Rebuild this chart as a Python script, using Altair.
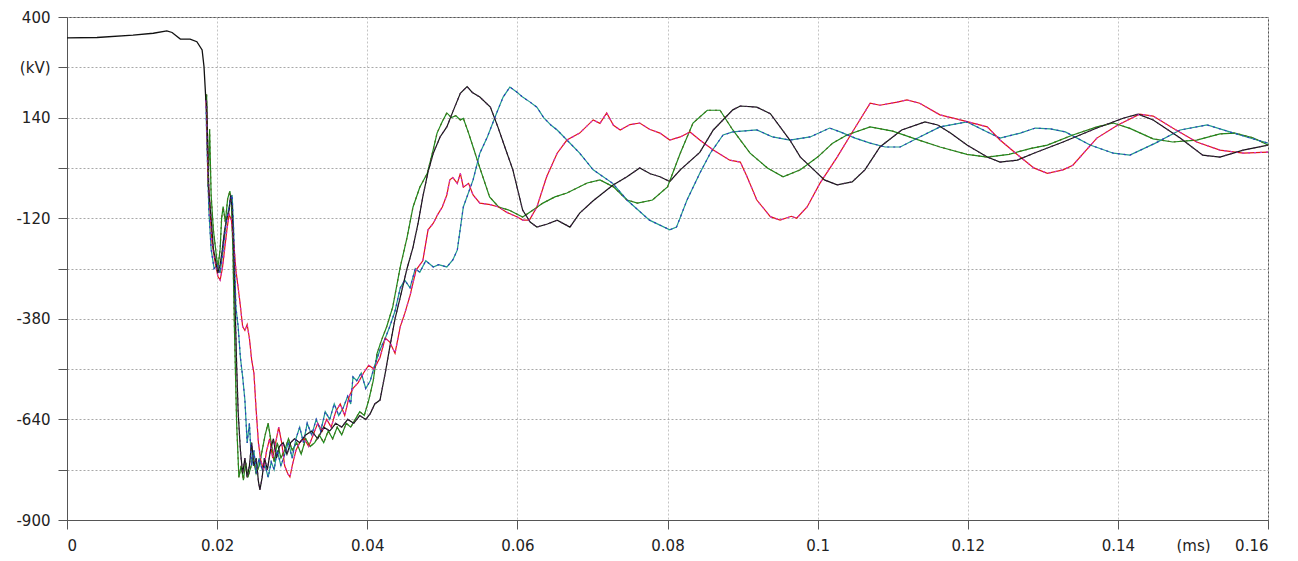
import altair as alt
import pandas as pd

# ---- data (t in ms, v in kV) ----
prefault = [(0.0, 346), (0.004, 347), (0.0088, 353), (0.0115, 358), (0.0133, 364),
            (0.0140, 360), (0.0151, 343), (0.0164, 343), (0.0173, 336), (0.0180, 315),
            (0.01825, 272), (0.0185, 185)]

wave_g = [(0.0186, 200), (0.0188, -40), (0.0190, 110), (0.0192, -60), (0.0195, -150), (0.0198, -200),
          (0.0201, -250), (0.0204, -200), (0.0206, -120), (0.0208, -90), (0.0211, -130), (0.0214, -70),
          (0.0217, -50), (0.0219, -80), (0.0221, -200), (0.0223, -400), (0.0226, -650), (0.0229, -790),
          (0.0232, -760), (0.0235, -797), (0.0238, -750), (0.0241, -790), (0.0244, -770), (0.0248, -740),
          (0.0252, -780), (0.0256, -760), (0.0260, -720), (0.0264, -680), (0.0268, -650), (0.0272, -700),
          (0.0276, -750), (0.0280, -700), (0.0285, -740), (0.0290, -720), (0.0295, -690), (0.0300, -720),
          (0.0306, -700), (0.0312, -730), (0.0318, -690), (0.0324, -710), (0.0330, -700), (0.0336, -680),
          (0.0342, -700), (0.0348, -670), (0.0354, -690), (0.0360, -660), (0.0366, -680), (0.0372, -650),
          (0.0378, -660), (0.0384, -640), (0.0390, -620), (0.0396, -630), (0.0402, -590), (0.0408, -540),
          (0.0413, -470), (0.0420, -430), (0.0426, -400), (0.0434, -349), (0.0444, -246), (0.0453, -170),
          (0.0461, -91), (0.0470, -40), (0.0480, -4), (0.0487, 50), (0.0493, 100), (0.0500, 130),
          (0.0506, 152), (0.0512, 140), (0.0518, 145), (0.0524, 134), (0.0528, 138), (0.0535, 100),
          (0.0541, 64), (0.0550, 10), (0.0563, -65), (0.0575, -91), (0.0590, -100), (0.0607, -117),
          (0.0620, -100), (0.0634, -81), (0.0650, -65), (0.0666, -55), (0.0693, -29), (0.0710, -21),
          (0.0728, -39), (0.0746, -73), (0.0760, -81), (0.0780, -73), (0.0800, -39), (0.0817, 48),
          (0.0834, 126), (0.0853, 159), (0.0870, 159), (0.0887, 108), (0.0910, 48), (0.0933, 10),
          (0.0954, -13), (0.0977, 5), (0.1000, 38), (0.1020, 74), (0.1039, 95), (0.1070, 116),
          (0.1100, 105), (0.1130, 85), (0.1163, 64), (0.1199, 45), (0.1226, 38), (0.1255, 45),
          (0.1283, 60), (0.1306, 69), (0.1340, 95), (0.1372, 116), (0.1394, 126), (0.1416, 112),
          (0.1447, 85), (0.1473, 77), (0.1505, 82), (0.1536, 98), (0.1556, 100), (0.1580, 88), (0.1600, 69)]

wave_t = [(0.0186, 100), (0.0189, -100), (0.0192, -200), (0.0196, -250), (0.0200, -240), (0.0204, -262),
          (0.0208, -200), (0.0212, -130), (0.0215, -100), (0.0218, -70), (0.0220, -60), (0.0222, -150),
          (0.0225, -350), (0.0228, -400), (0.0231, -480), (0.0234, -530), (0.0237, -590), (0.0240, -701),
          (0.0243, -650), (0.0246, -760), (0.0249, -720), (0.0252, -780), (0.0256, -740), (0.0260, -770),
          (0.0264, -760), (0.0268, -790), (0.0272, -750), (0.0276, -770), (0.0280, -720), (0.0285, -760),
          (0.0290, -730), (0.0295, -700), (0.0300, -740), (0.0305, -690), (0.0310, -660), (0.0315, -700),
          (0.0320, -650), (0.0326, -680), (0.0332, -640), (0.0338, -670), (0.0344, -620), (0.0350, -640),
          (0.0356, -600), (0.0362, -630), (0.0368, -610), (0.0374, -580), (0.0378, -600), (0.0381, -530),
          (0.0386, -540), (0.0392, -520), (0.0398, -560), (0.0404, -540), (0.0410, -500), (0.0417, -460),
          (0.0424, -430), (0.0430, -400), (0.0437, -360), (0.0444, -300), (0.0450, -280), (0.0457, -300),
          (0.0464, -250), (0.0470, -260), (0.0478, -230), (0.0488, -246), (0.0495, -240), (0.0506, -246),
          (0.0514, -228), (0.0520, -202), (0.0528, -91), (0.0541, -21), (0.0550, 48), (0.0560, 90),
          (0.0572, 150), (0.0581, 193), (0.0590, 219), (0.0600, 205), (0.0607, 193), (0.0617, 180),
          (0.0626, 167), (0.0635, 140), (0.0645, 120), (0.0653, 108), (0.0666, 82), (0.0683, 48),
          (0.0701, 5), (0.0727, -30), (0.0746, -73), (0.0776, -125), (0.0803, -150), (0.0812, -143),
          (0.0826, -73), (0.0843, -4), (0.0857, 48), (0.0874, 95), (0.0887, 103), (0.0919, 108),
          (0.0940, 90), (0.0963, 82), (0.0990, 90), (0.1016, 113), (0.1030, 103), (0.1050, 87),
          (0.1070, 74), (0.1090, 64), (0.1110, 64), (0.1136, 90), (0.1163, 116), (0.1199, 129),
          (0.1226, 103), (0.1243, 87), (0.1270, 100), (0.1290, 113), (0.1310, 111), (0.1330, 103),
          (0.1363, 69), (0.1394, 48), (0.1416, 43), (0.1450, 74), (0.1483, 108), (0.1519, 121),
          (0.1549, 103), (0.1575, 88), (0.1600, 74)]

wave_p = [(0.0186, 150), (0.0188, -20), (0.0190, -80), (0.0193, -180), (0.0197, -230), (0.0201, -270),
          (0.0204, -280), (0.0207, -250), (0.0210, -200), (0.0213, -150), (0.0216, -110), (0.0219, -125),
          (0.0222, -180), (0.0225, -254), (0.0230, -330), (0.0234, -400), (0.0237, -410), (0.0240, -395),
          (0.0243, -430), (0.0246, -486), (0.0249, -520), (0.0252, -616), (0.0255, -700), (0.0258, -745),
          (0.0262, -770), (0.0266, -720), (0.0270, -690), (0.0274, -740), (0.0278, -700), (0.0282, -660),
          (0.0286, -700), (0.0290, -760), (0.0294, -780), (0.0297, -789), (0.0300, -760), (0.0305, -720),
          (0.0310, -700), (0.0316, -690), (0.0322, -710), (0.0328, -680), (0.0334, -650), (0.0340, -670),
          (0.0346, -640), (0.0352, -660), (0.0358, -620), (0.0364, -600), (0.0370, -630), (0.0376, -580),
          (0.0381, -560), (0.0388, -545), (0.0395, -520), (0.0402, -500), (0.0409, -510), (0.0417, -480),
          (0.0424, -430), (0.0430, -440), (0.0437, -469), (0.0444, -400), (0.0450, -366), (0.0457, -320),
          (0.0465, -254), (0.0474, -230), (0.0481, -150), (0.0488, -133), (0.0494, -110), (0.0500, -91),
          (0.0506, -60), (0.0510, -21), (0.0514, -15), (0.0520, -30), (0.0524, -4), (0.0528, -40),
          (0.0535, -30), (0.0541, -60), (0.0550, -81), (0.0564, -85), (0.0575, -91), (0.0586, -105),
          (0.0600, -117), (0.0607, -125), (0.0616, -125), (0.0626, -91), (0.0639, -13), (0.0653, 48),
          (0.0666, 82), (0.0683, 100), (0.0701, 134), (0.0710, 125), (0.0719, 152), (0.0728, 120),
          (0.0737, 108), (0.0750, 122), (0.0763, 126), (0.0776, 110), (0.0790, 100), (0.0803, 82),
          (0.0817, 90), (0.0830, 103), (0.0843, 82), (0.0861, 56), (0.0883, 30), (0.0897, 25),
          (0.0906, -13), (0.0919, -73), (0.0937, -116), (0.0950, -125), (0.0965, -115), (0.0972, -120),
          (0.0986, -91), (0.1003, -30), (0.1026, 38), (0.1048, 108), (0.1070, 177), (0.1083, 172),
          (0.1106, 180), (0.1119, 186), (0.1136, 177), (0.1163, 147), (0.1190, 134), (0.1226, 116),
          (0.1243, 82), (0.1270, 38), (0.1288, 10), (0.1306, -4), (0.1327, 5), (0.1340, 17),
          (0.1372, 87), (0.1400, 121), (0.1429, 149), (0.1447, 144), (0.1473, 113), (0.1505, 77),
          (0.1536, 56), (0.1567, 48), (0.1600, 51)]

wave_k = [(0.0186, 180), (0.0189, -50), (0.0192, -120), (0.0195, -200), (0.0198, -230), (0.0201, -262),
          (0.0204, -240), (0.0207, -200), (0.0210, -150), (0.0213, -120), (0.0216, -100), (0.0218, -60),
          (0.0220, -90), (0.0222, -200), (0.0224, -350), (0.0226, -500), (0.0228, -620), (0.0231, -720),
          (0.0234, -780), (0.0237, -740), (0.0240, -790), (0.0243, -760), (0.0246, -700), (0.0249, -760),
          (0.0252, -740), (0.0255, -800), (0.0257, -822), (0.0260, -790), (0.0263, -740), (0.0267, -770),
          (0.0271, -720), (0.0275, -690), (0.0279, -740), (0.0283, -710), (0.0288, -700), (0.0293, -730),
          (0.0298, -700), (0.0303, -690), (0.0310, -700), (0.0318, -680), (0.0326, -670), (0.0334, -690),
          (0.0342, -660), (0.0350, -670), (0.0358, -650), (0.0366, -660), (0.0374, -640), (0.0382, -650),
          (0.0390, -630), (0.0398, -640), (0.0404, -625), (0.0410, -600), (0.0417, -590), (0.0424, -520),
          (0.0430, -453), (0.0437, -380), (0.0444, -324), (0.0453, -250), (0.0461, -195), (0.0468, -130),
          (0.0474, -65), (0.0481, 0), (0.0488, 48), (0.0497, 90), (0.0506, 116), (0.0515, 160),
          (0.0524, 203), (0.0533, 220), (0.0540, 205), (0.0550, 193), (0.0564, 167), (0.0574, 116),
          (0.0584, 60), (0.0594, 5), (0.0607, -99), (0.0617, -130), (0.0626, -143), (0.0640, -135),
          (0.0653, -125), (0.0670, -143), (0.0683, -107), (0.0701, -75), (0.0727, -35), (0.0746, -13),
          (0.0763, 10), (0.0777, -5), (0.0790, -13), (0.0803, -25), (0.0817, 5), (0.0843, 50),
          (0.0861, 108), (0.0887, 160), (0.0897, 170), (0.0919, 167), (0.0937, 150), (0.0963, 82),
          (0.0977, 38), (0.0995, 5), (0.1009, -21), (0.1026, -34), (0.1046, -26), (0.1063, 5),
          (0.1083, 64), (0.1112, 108), (0.1143, 129), (0.1160, 121), (0.1177, 100), (0.1199, 69),
          (0.1226, 38), (0.1243, 25), (0.1266, 30), (0.1288, 48), (0.1327, 77), (0.1372, 113),
          (0.1408, 139), (0.1427, 149), (0.1447, 134), (0.1483, 87), (0.1513, 43), (0.1536, 38),
          (0.1567, 56), (0.1600, 69)]

series_names = ["G", "T", "P", "K"]
primary_colors = ["#1a8c1a", "#1f9a8c", "#e01818", "#151515"]
overlay_colors = ["#4f6a22", "#3038c0", "#d030d0", "#4a2850"]

x_ticks = [0, 0.02, 0.04, 0.06, 0.08, 0.1, 0.12, 0.14, 0.16]
y_ticks = [-900, -770, -640, -510, -380, -250, -120, 10, 140, 270, 400]

# ---- build tables ----
rows = []
for name, pts in zip(series_names, [wave_g, wave_t, wave_p, wave_k]):
    for t, v in [prefault[-1]] + pts:
        rows.append({"t": t, "v": v, "s": name})
df = pd.DataFrame(rows)
df_pre = pd.DataFrame(prefault, columns=["t", "v"])

FONT = "DejaVu Sans"
x_enc = alt.X("t:Q", scale=alt.Scale(domain=[0, 0.16], nice=False, zero=False),
              axis=alt.Axis(values=x_ticks, labelExpr="toString(datum.value)",
                            labelFont=FONT, labelFontSize=15, labelColor="#222222",
                            title="(ms)", titleX=1126, titleY=18, titleBaseline="top",
                            titleAlign="center", titleFontWeight="normal", titleFontSize=15,
                            titleFont=FONT, titleColor="#222222",
                            domainColor="#555555", tickColor="#555555",
                            grid=True, gridColor="#c4c4c4", gridDash=[2, 2], gridWidth=1,
                            tickSize=9, labelPadding=9))
y_enc = alt.Y("v:Q", scale=alt.Scale(domain=[-900, 400], nice=False, zero=False),
              axis=alt.Axis(values=y_ticks, title=None,
                            labelExpr="datum.value == 270 ? '(kV)' : ((datum.value + 900) % 260 == 0 ? toString(datum.value) : '')",
                            labelFont=FONT, labelFontSize=15, labelColor="#222222",
                            domainColor="#555555", tickColor="#555555",
                            grid=True, gridColor="#a8a8a8", gridDash=[2, 2], gridWidth=1,
                            tickSize=9, labelPadding=8))

base = alt.Chart(df)
main = base.mark_line(strokeWidth=1.2).encode(
    x=x_enc, y=y_enc,
    color=alt.Color("s:N", scale=alt.Scale(domain=series_names, range=primary_colors), legend=None),
)
over = base.mark_line(strokeWidth=1.2, strokeDash=[2, 4]).encode(
    x="t:Q", y="v:Q",
    color=alt.Color("s:N", scale=alt.Scale(domain=series_names, range=overlay_colors), legend=None),
)
pre = alt.Chart(df_pre).mark_line(strokeWidth=1.3, color="#111111").encode(x="t:Q", y="v:Q")

chart = alt.layer(main, over, pre).resolve_scale(color="independent").properties(
    width=1201, height=503,
    autosize=alt.AutoSizeParams(type="none"),
    padding={"left": 59, "top": 9, "right": 22, "bottom": 33},
    background="white",
).configure_view(stroke="#555555", strokeWidth=1)

chart.save("out.html", embed_options={"renderer": "svg", "actions": False})
